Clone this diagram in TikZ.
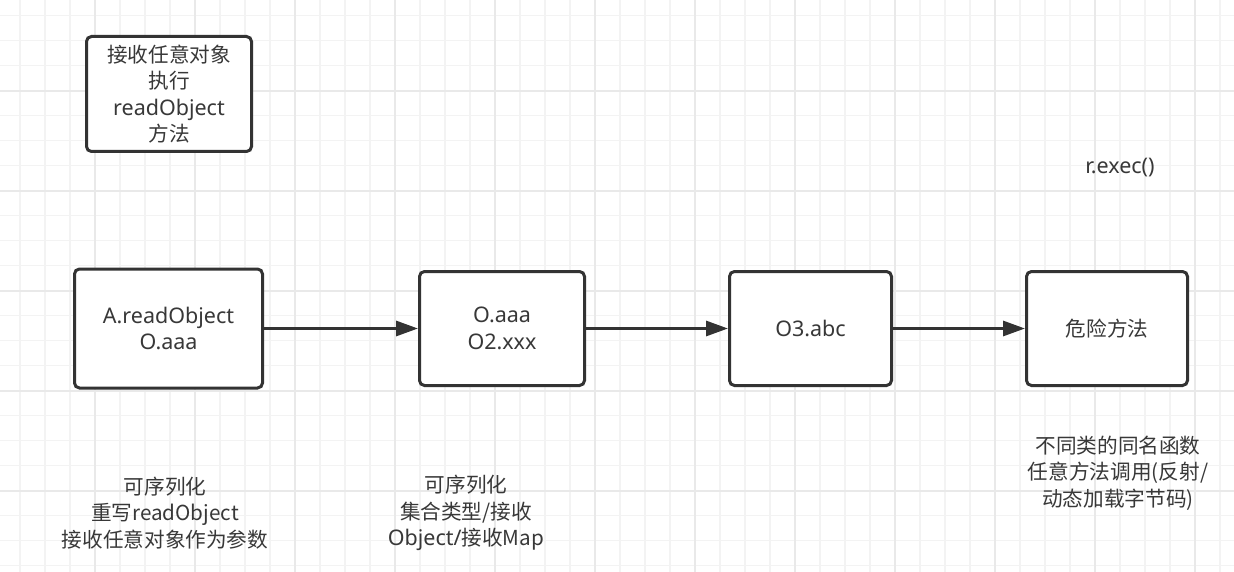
\documentclass[tikz,border=0pt]{standalone}
\usepackage{fontspec}
\setmainfont{Noto Sans}
\newfontfamily\cjk[Scale=0.96]{Noto Sans CJK SC}
\usetikzlibrary{arrows.meta}
\definecolor{gridminor}{HTML}{F3F3F3}
\definecolor{gridmajor}{HTML}{E9E9E9}
\definecolor{boxc}{HTML}{333333}
\definecolor{txtc}{HTML}{383838}
\tikzset{
  minorline/.style={draw=gridminor, line width=1.5pt},
  majorline/.style={draw=gridmajor, line width=1.8pt},
  stepbox/.style={draw=boxc, line width=3pt, rounded corners=5pt, fill=white,
    inner sep=0pt, align=center, text=txtc},
  note/.style={inner sep=0pt, align=center, text=txtc},
  arr/.style={draw=boxc, line width=3pt, -{Triangle[length=22pt,width=15pt]}},
}
\begin{document}
\begin{tikzpicture}[x=1pt,y=-1pt,font=\fontsize{21.5}{26.5}\selectfont]
\useasboundingbox (0,0) rectangle (1234,572);
\fill[white] (0,0) rectangle (1234,572);
% grid
\foreach \i in {0,...,48} {\draw[minorline] ({20+25*\i},0) -- ({20+25*\i},572);}
\foreach \j in {0,...,22} {\draw[minorline] (0,{15.7+25*\j}) -- (1234,{15.7+25*\j});}
\foreach \i in {0,...,11} {\draw[majorline] ({95+100*\i},0) -- ({95+100*\i},572);}
\foreach \j in {0,...,5} {\draw[majorline] (0,{90.7+100*\j}) -- (1234,{90.7+100*\j});}
% boxes
\node[stepbox, minimum width=165pt, minimum height=115pt] (top) at (169,94)
  {\cjk{接收任意对象}\\\cjk{执行}\\readObject\\\cjk{方法}};
\node[stepbox, minimum width=188pt, minimum height=119pt] (A) at (168.5,328.5)
  {A.readObject\\O.aaa};
\node[stepbox, minimum width=165pt, minimum height=114pt] (O) at (502,328.5)
  {O.aaa\\O2.xxx};
\node[stepbox, minimum width=162pt, minimum height=114pt] (O3) at (810.5,328.5)
  {O3.abc};
\node[stepbox, minimum width=161pt, minimum height=114pt] (D) at (1107,328.5)
  {\cjk{危险方法}};
% arrows
\draw[arr] (A.east) -- (O.west);
\draw[arr] (O.east) -- (O3.west);
\draw[arr] (O3.east) -- (D.west);
% free texts
\node[note] (rexec) at (1120,168) {r.exec()};
\node[note] (t1) at (165,513)
  {\cjk{可序列化}\\\cjk{重写}readObject\\\cjk{接收任意对象作为参数}};
\node[note] (t2) at (466,513)
  {\cjk{可序列化}\\\cjk{集合类型/接收}\\Object/\cjk{接收}Map};
\node[note] (t3) at (1118,473)
  {\cjk{不同类的同名函数}\\\cjk{任意方法调用}(\cjk{反射}/\\\cjk{动态加载字节码})};
\end{tikzpicture}
\end{document}
